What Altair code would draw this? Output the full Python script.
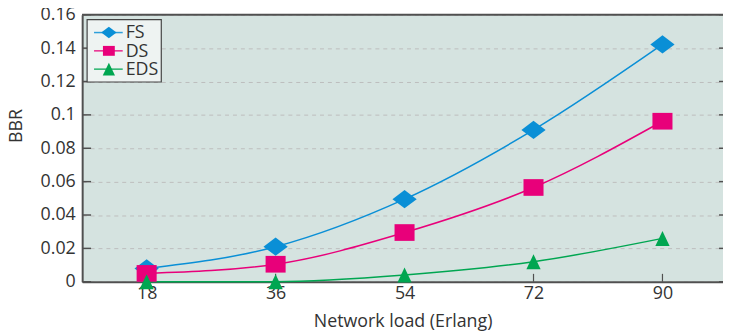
import altair as alt
import pandas as pd

# ---- data ----
loads = [18, 36, 54, 72, 90]
series_names = ["FS", "DS", "EDS"]
fs_values = [0.008, 0.021, 0.0495, 0.091, 0.1422]
ds_values = [0.005, 0.0105, 0.0295, 0.0565, 0.0962]
eds_values = [0.0, 0.0, 0.004, 0.012, 0.026]
x_ticks = [18, 36, 54, 72, 90]
y_ticks = [0, 0.02, 0.04, 0.06, 0.08, 0.1, 0.12, 0.14, 0.16]

colors = ["#0a8fd6", "#e8007a", "#00a651"]
# marker outlines (slightly wide, as in the reference)
shapes = [
    "M-1.33,0L0,-1L1.33,0L0,1Z",
    "M-1.2,-1L1.2,-1L1.2,1L-1.2,1Z",
    "M0,-1L0.95,1L-0.95,1Z",
]
sizes = [340, 230, 300]

rows = []
for name, vals in zip(series_names, [fs_values, ds_values, eds_values]):
    for x, v in zip(loads, vals):
        rows.append({"load": x, "BBR": v, "series": name})
df = pd.DataFrame(rows)

W, H = 648, 270
FONT = "Open Sans"
FS_ = 18
TXT = "#333333"
AX = "#505050"

xscale = alt.Scale(domain=[9, 98.45], nice=False, zero=False)
yscale = alt.Scale(domain=[0, 0.16], nice=False)
cscale = alt.Scale(domain=series_names, range=colors)

x_axis = alt.Axis(values=x_ticks, title="Network load (Erlang)", grid=False,
                  tickSize=0, labelPadding=3, titlePadding=10,
                  labelOverlap=False,
                  domainColor=AX, domainWidth=2)
y_axis = alt.Axis(values=y_ticks, format="~g", title="BBR", grid=True,
                  gridColor="#bdbdbd", gridDash=[4, 4], gridWidth=1,
                  tickSize=0, labelPadding=7, labelOverlap=False,
                  labelFlush=False, labelBound=False,
                  domainColor=AX, domainWidth=2,
                  titleX=-66, titleY=112, titleAngle=-90,
                  titleBaseline="middle", titleAlign="center")

base = alt.Chart(df)

lines = base.mark_line(interpolate="monotone", strokeWidth=1.5).encode(
    x=alt.X("load:Q", scale=xscale, axis=x_axis),
    y=alt.Y("BBR:Q", scale=yscale, axis=y_axis),
    color=alt.Color("series:N", scale=cscale, legend=None),
    detail="series:N",
)

points = base.mark_point(filled=True, opacity=1, strokeWidth=0).encode(
    x=alt.X("load:Q", scale=xscale, axis=x_axis),
    y=alt.Y("BBR:Q", scale=yscale, axis=y_axis),
    color=alt.Color("series:N", scale=cscale, legend=None),
    shape=alt.Shape("series:N", scale=alt.Scale(domain=series_names, range=shapes), legend=None),
    size=alt.Size("series:N", scale=alt.Scale(domain=series_names, range=sizes), legend=None),
    order=alt.Order("ord:Q"),
).transform_calculate(
    ord="indexof(['FS','DS','EDS'], datum.series)"
)

# inward tick marks and frame
yt = pd.DataFrame({"v": y_ticks})
xt = pd.DataFrame({"v": x_ticks})
left_ticks = alt.Chart(yt).mark_rule(color=AX, strokeWidth=1.5).encode(
    y=alt.Y("v:Q", scale=yscale, axis=y_axis), x=alt.value(0), x2=alt.value(9))
right_ticks = alt.Chart(yt).mark_rule(color=AX, strokeWidth=1.5).encode(
    y=alt.Y("v:Q", scale=yscale, axis=y_axis), x=alt.value(W - 4), x2=alt.value(W))
bottom_ticks = alt.Chart(xt).mark_rule(color=AX, strokeWidth=1.2).encode(
    x=alt.X("v:Q", scale=xscale, axis=x_axis), y=alt.value(H - 8), y2=alt.value(H))
top_border = alt.Chart(pd.DataFrame({"a": [0]})).mark_rule(color=AX, strokeWidth=2).encode(
    x=alt.value(0), x2=alt.value(W), y=alt.value(0))

# legend box
one = pd.DataFrame({"a": [0]})
legend_layers = [
    alt.Chart(one).mark_rect(fill="#eef3f2", stroke="#444444", strokeWidth=1.2).encode(
        x=alt.value(5), x2=alt.value(80), y=alt.value(5), y2=alt.value(68))
]
leg_sizes = [135, 100, 170]
leg_rows = [18, 36.5, 55]
for i, name in enumerate(series_names):
    yy = leg_rows[i]
    legend_layers.append(alt.Chart(one).mark_rule(color=colors[i], strokeWidth=1.5, opacity=0.85).encode(
        x=alt.value(12), x2=alt.value(41), y=alt.value(yy)))
    legend_layers.append(alt.Chart(one).mark_point(filled=True, opacity=1, strokeWidth=0).encode(
        x=alt.value(27), y=alt.value(yy), shape=alt.value(shapes[i]),
        size=alt.value(leg_sizes[i]), color=alt.value(colors[i])))
    legend_layers.append(alt.Chart(pd.DataFrame({"t": [name]})).mark_text(
        align="left", baseline="middle", font=FONT, fontSize=FS_, color=TXT).encode(
        x=alt.value(44), y=alt.value(yy + 1), text="t:N"))

chart = alt.layer(
    lines, bottom_ticks, left_ticks, right_ticks, top_border, points, *legend_layers
).properties(
    width=W, height=H,
    autosize=alt.AutoSizeParams(type="none"),
    padding={"left": 75, "top": 5, "right": 0, "bottom": 52},
).configure_view(
    fill="#d5e3e0", stroke=None
).configure_axis(
    labelFont=FONT, titleFont=FONT, labelFontSize=FS_, titleFontSize=FS_,
    labelColor=TXT, titleColor=TXT, titleFontWeight="normal", labelOverlap=False,
)

chart.save("out.html", embed_options={"renderer": "svg", "actions": False})
